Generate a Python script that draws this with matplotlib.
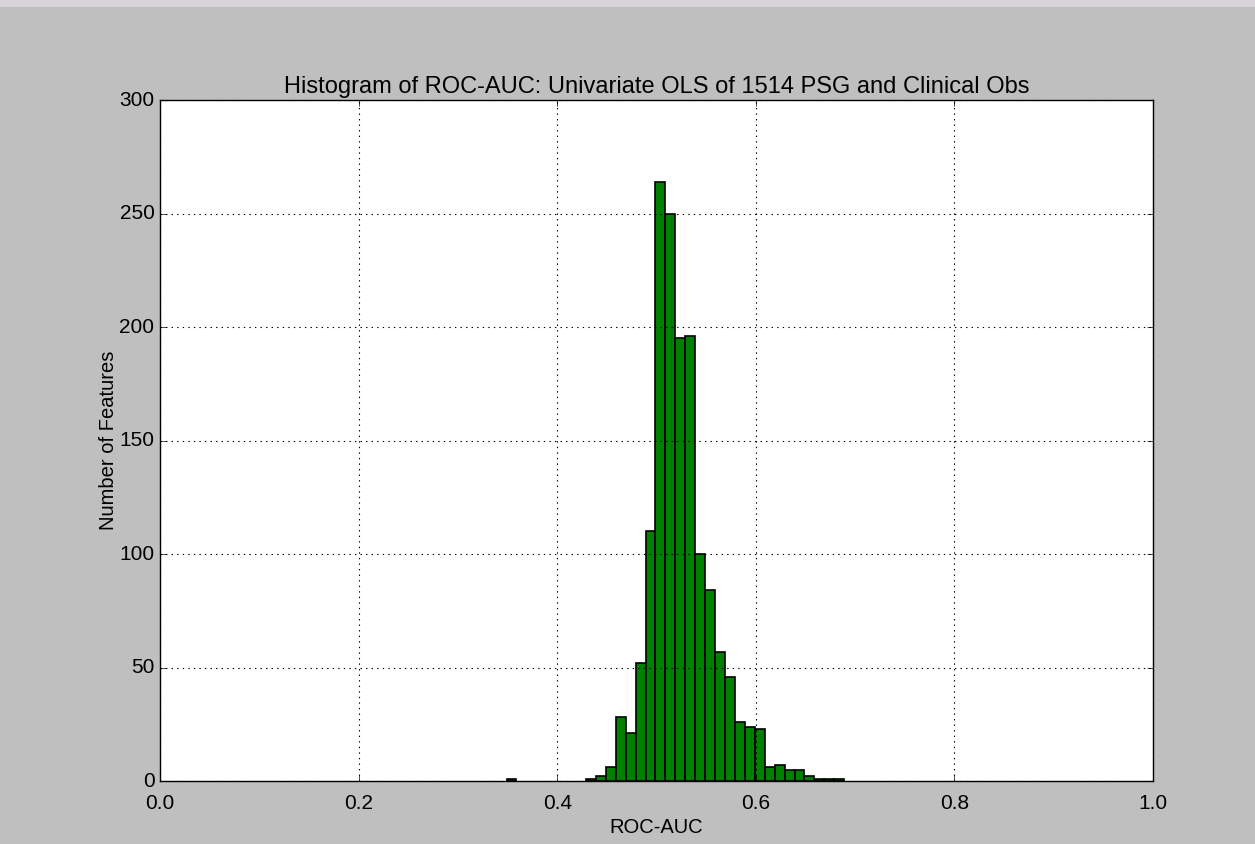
import numpy as np
import matplotlib
matplotlib.use("Agg")
import matplotlib.pyplot as plt
from matplotlib.patches import Rectangle

plt.style.use('classic')
plt.rcParams['font.family'] = ['Liberation Sans', 'DejaVu Sans']

# Histogram of ROC-AUC values, 34 bins of width 0.01 starting at 0.349
bin_start = 0.349
bin_width = 0.01
counts = [1, 0, 0, 0, 0, 0, 0, 0,
          1, 2, 6, 28, 21, 52, 110, 264, 250, 195, 196, 100, 84, 57, 46,
          26, 24, 23, 6, 7, 5, 5, 2, 1, 1, 1]
edges = bin_start + bin_width * np.arange(len(counts))
counts = np.array(counts)
nz = counts > 0  # empty bins draw nothing

fig = plt.figure(figsize=(12.55, 8.44), dpi=100, facecolor='#bfbfbf')
ax = fig.add_axes([0.1275, 0.0746, 0.7912, 0.8069])

ax.bar(edges[nz], counts[nz], width=bin_width, align='edge',
       color='green', edgecolor='black', linewidth=1.2)

ax.set_xlim(0.0, 1.0)
ax.set_ylim(0, 300)
ax.set_xticks([0.0, 0.2, 0.4, 0.6, 0.8, 1.0])
ax.set_yticks([0, 50, 100, 150, 200, 250, 300])
ax.grid(True, linestyle=':', color='black', linewidth=0.8)
ax.tick_params(labelsize=15)
ax.tick_params(axis='x', pad=9)

ax.set_title('Histogram of ROC-AUC: Univariate OLS of 1514 PSG and Clinical Obs',
             fontsize=17, pad=5)
ax.set_xlabel('ROC-AUC', fontsize=14.5, labelpad=4)
ax.set_ylabel('Number of Features', fontsize=14.5, labelpad=1)

# lighter window strip along the top edge
fig.add_artist(Rectangle((0, 1 - 7 / 844), 1, 7 / 844, transform=fig.transFigure,
                         facecolor='#d6d4d6', edgecolor='none'))

fig.savefig('out.png', dpi=100, facecolor=fig.get_facecolor())
